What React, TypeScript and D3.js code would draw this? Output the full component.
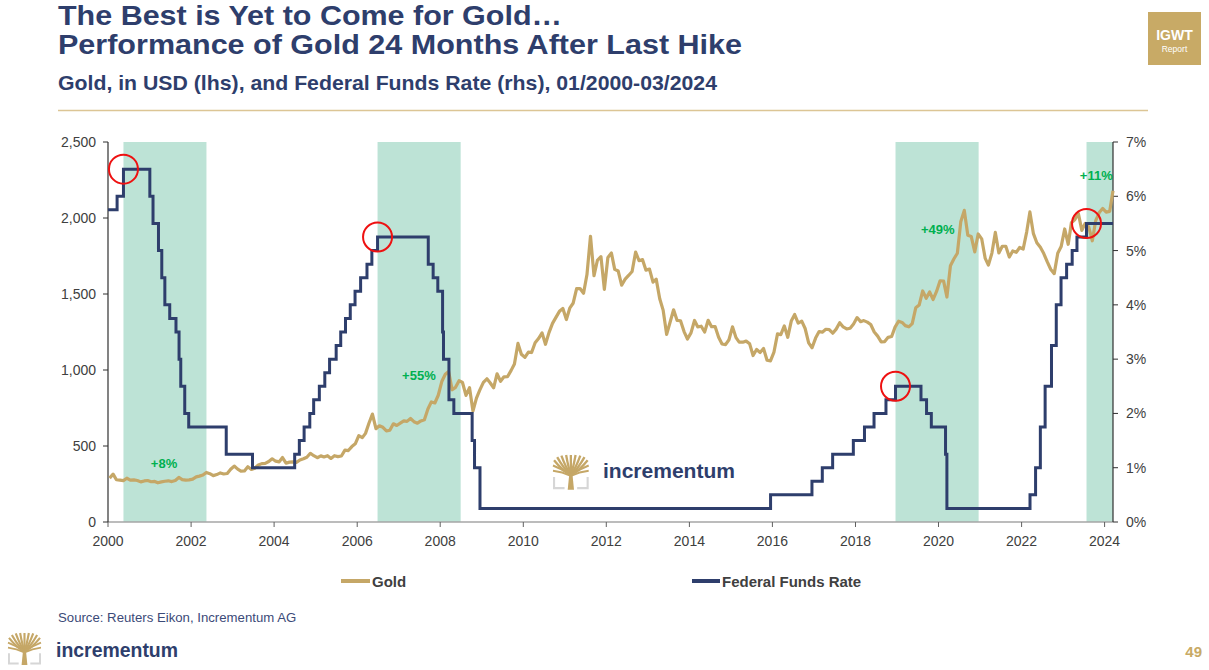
import React from "react";
import * as d3 from "d3";

// ---------- DATA ----------
const goldStartMonth = "2000-01-15";
const goldMonthly: number[] = [
  // 2000
  289, 315, 278, 275, 272, 288, 276, 277, 273, 264, 270, 273,
  // 2001
  265, 267, 258, 264, 268, 271, 266, 273, 293, 279, 275, 277,
  // 2002
  282, 297, 302, 309, 326, 318, 305, 312, 323, 316, 319, 347,
  // 2003
  368, 348, 335, 336, 364, 346, 354, 375, 384, 386, 398, 416,
  // 2004
  400, 396, 424, 387, 394, 395, 392, 408, 416, 426, 452, 436,
  // 2005
  423, 435, 428, 436, 418, 436, 430, 434, 473, 470, 496, 514,
  // 2006
  568, 555, 583, 651, 710, 614, 633, 623, 599, 604, 646, 635,
  // 2007
  650, 665, 662, 681, 660, 650, 665, 673, 743, 790, 783, 834,
  // 2008
  924, 972, 990, 870, 886, 930, 918, 833, 884, 730, 815, 869,
  // 2009
  919, 942, 916, 883, 975, 926, 955, 956, 996, 1040, 1175, 1104,
  // 2010
  1083, 1118, 1115, 1179, 1207, 1244, 1169, 1246, 1307, 1346, 1386, 1405,
  // 2011
  1332, 1409, 1439, 1535, 1536, 1505, 1628, 1880, 1620, 1722, 1746, 1531,
  // 2012
  1740, 1770, 1662, 1651, 1558, 1598, 1622, 1648, 1776, 1719, 1726, 1657,
  // 2013
  1664, 1578, 1598, 1469, 1394, 1234, 1314, 1396, 1326, 1324, 1253, 1204,
  // 2014
  1244, 1326, 1284, 1288, 1250, 1327, 1285, 1286, 1216, 1171, 1167, 1199,
  // 2015
  1284, 1213, 1183, 1183, 1190, 1172, 1095, 1135, 1115, 1142, 1064, 1060,
  // 2016
  1118, 1238, 1233, 1290, 1215, 1322, 1365, 1309, 1322, 1273, 1178, 1146,
  // 2017
  1210, 1253, 1249, 1268, 1266, 1242, 1269, 1311, 1283, 1270, 1275, 1303,
  // 2018
  1345, 1318, 1325, 1315, 1299, 1250, 1223, 1185, 1187, 1215, 1220, 1282,
  // 2019
  1321, 1313, 1292, 1284, 1305, 1409, 1427, 1520, 1472, 1513, 1464, 1517,
  // 2020
  1587, 1585, 1480, 1686, 1730, 1768, 1975, 2050, 1887, 1879, 1777, 1895,
  // 2021
  1863, 1734, 1690, 1769, 1905, 1770, 1814, 1814, 1743, 1783, 1774, 1806,
  // 2022
  1796, 1909, 2040, 1897, 1837, 1807, 1766, 1711, 1661, 1634, 1768, 1812,
  // 2023
  1928, 1827, 1969, 1990, 2030, 1919, 1965, 1940, 1850, 1983, 2036, 2063,
  // 2024
  2039, 2044, 2180,
];

const fedDates: string[] = [
  "2000-01-01", "2000-03-21", "2000-05-16", "2001-01-03", "2001-01-31", "2001-03-20",
  "2001-04-18", "2001-05-15", "2001-06-27", "2001-08-21", "2001-09-17", "2001-10-02",
  "2001-11-06", "2001-12-11", "2002-11-06", "2003-06-25", "2004-06-30", "2004-08-10",
  "2004-09-21", "2004-11-10", "2004-12-14", "2005-02-02", "2005-03-22", "2005-05-03",
  "2005-06-30", "2005-08-09", "2005-09-20", "2005-11-01", "2005-12-13", "2006-01-31",
  "2006-03-28", "2006-05-10", "2006-06-29", "2007-09-18", "2007-10-31", "2007-12-11",
  "2008-01-22", "2008-01-30", "2008-03-18", "2008-04-30", "2008-10-08", "2008-10-29",
  "2008-12-16", "2015-12-16", "2016-12-14", "2017-03-15", "2017-06-14", "2017-12-13",
  "2018-03-21", "2018-06-13", "2018-09-26", "2018-12-19", "2019-07-31", "2019-09-18",
  "2019-10-30", "2020-03-03", "2020-03-15", "2022-03-16", "2022-05-04", "2022-06-15",
  "2022-07-27", "2022-09-21", "2022-11-02", "2022-12-14", "2023-02-01", "2023-03-22",
  "2023-05-03", "2023-07-26", "2024-03-15",
];
const fedRates: number[] = [
  5.75, 6.0, 6.5, 6.0, 5.5, 5.0,
  4.5, 4.0, 3.75, 3.5, 3.0, 2.5,
  2.0, 1.75, 1.25, 1.0, 1.25, 1.5,
  1.75, 2.0, 2.25, 2.5, 2.75, 3.0,
  3.25, 3.5, 3.75, 4.0, 4.25, 4.5,
  4.75, 5.0, 5.25, 4.75, 4.5, 4.25,
  3.5, 3.0, 2.25, 2.0, 1.5, 1.0,
  0.25, 0.5, 0.75, 1.0, 1.25, 1.5,
  1.75, 2.0, 2.25, 2.5, 2.25, 2.0,
  1.75, 1.25, 0.25, 0.5, 1.0, 1.75,
  2.5, 3.25, 4.0, 4.5, 4.75, 5.0,
  5.25, 5.5, 5.5,
];

const lastHikeDates = ["2000-05-16", "2006-06-29", "2018-12-19", "2023-07-26"];
const lastHikeRates = [6.5, 5.25, 2.5, 5.5];
const windowEndDates = ["2002-05-16", "2008-06-29", "2020-12-19", "2024-03-15"];

const perfLabels = ["+8%", "+55%", "+49%", "+11%"];
const perfLabelDates = ["2001-05-08", "2007-06-28", "2019-12-25", "2023-10-20"];
const perfLabelGold = [355, 934, 1895, 2250];

const leftTicks = [0, 500, 1000, 1500, 2000, 2500];
const rightTicks = [0, 1, 2, 3, 4, 5, 6, 7];
const xTickYears = [2000, 2002, 2004, 2006, 2008, 2010, 2012, 2014, 2016, 2018, 2020, 2022, 2024];

const seriesNames = ["Gold", "Federal Funds Rate"];

// ---------- STYLE ----------
const NAVY = "#2e3e6c";
const GOLD = "#c5a767";
const BAND = "#bde3d6";
const FONT = "'Liberation Sans', Arial, Helvetica, sans-serif";
const AXIS_TXT = "#404040";

const W = 1209;
const H = 670;
const M = { left: 108, right: 1113, top: 142, bottom: 522 };

const parse = d3.timeParse("%Y-%m-%d");

function TreeIcon({ x, y, s = 1 }: { x: number; y: number; s?: number }) {
  const tips = [
    [1, 5], [4, 2], [8, 0.5], [12.5, 0], [17, 0], [21.5, 0], [26, 0.5], [30, 2], [33, 5],
  ];
  return (
    <g transform={`translate(${x},${y}) scale(${s})`}>
      <path d="M1,21 V31.5 H11" fill="none" stroke="#d6d6d6" strokeWidth={2} />
      <path d="M33,21 V31.5 H23" fill="none" stroke="#d6d6d6" strokeWidth={2} />
      {tips.map(([tx, ty], i) => (
        <path
          key={i}
          d={`M17,19 Q${(17 + tx) / 2},${(19 + ty) / 2 + 3} ${tx},${ty}`}
          fill="none"
          stroke={GOLD}
          strokeWidth={2.2}
        />
      ))}
      <path d="M0,10 Q8,13 17,19 Q26,13 34,10" fill="none" stroke={GOLD} strokeWidth={2} />
      <path d="M0,15 Q9,16 17,20 Q25,16 34,15" fill="none" stroke={GOLD} strokeWidth={1.8} />
      <path d="M14,33 L15.5,18 L18.5,18 L20,33 Z" fill={GOLD} />
    </g>
  );
}

export default function App() {
  const xDomain: [Date, Date] = [parse("2000-01-01")!, parse("2024-03-15")!];
  const x = d3.scaleTime().domain(xDomain).range([M.left, M.right]);
  const yL = d3.scaleLinear().domain([0, 2500]).range([M.bottom, M.top]);
  const yR = d3.scaleLinear().domain([0, 7]).range([M.bottom, M.top]);

  const start = parse(goldStartMonth)!;
  const gold = goldMonthly.map((v, i) => ({ d: d3.timeMonth.offset(start, i), v }));
  const fed = fedDates.map((ds, i) => ({ d: parse(ds)!, v: fedRates[i] }));

  const goldLine = d3
    .line<{ d: Date; v: number }>()
    .x((p) => x(p.d))
    .y((p) => yL(p.v))
    .curve(d3.curveLinear);
  const fedLine = d3
    .line<{ d: Date; v: number }>()
    .x((p) => x(p.d))
    .y((p) => yR(p.v))
    .curve(d3.curveStepAfter);

  const fmt = d3.format(",");

  return (
    <svg
      width={W}
      height={H}
      viewBox={`0 0 ${W} ${H}`}
      style={{ position: "absolute", left: 0, top: 0, display: "block", background: "#fff" }}
      fontFamily={FONT}
    >
      <rect x={0} y={0} width={W} height={H} fill="#fff" />

      {/* Titles */}
      <text x={58} y={25} fontSize={27} fontWeight="bold" fill={NAVY} textLength={504} lengthAdjust="spacingAndGlyphs">
        The Best is Yet to Come for Gold…
      </text>
      <text x={58} y={53.5} fontSize={27} fontWeight="bold" fill={NAVY} textLength={684} lengthAdjust="spacingAndGlyphs">
        Performance of Gold 24 Months After Last Hike
      </text>
      <text x={58} y={90} fontSize={21} fontWeight="bold" fill={NAVY} textLength={659} lengthAdjust="spacingAndGlyphs">
        Gold, in USD (lhs), and Federal Funds Rate (rhs), 01/2000-03/2024
      </text>
      <line x1={58} x2={1148} y1={110.5} y2={110.5} stroke="#dcc595" strokeWidth={1.5} />

      {/* IGWT box */}
      <rect x={1148} y={12} width={53} height={53} fill="#c8aa66" />
      <text x={1174.5} y={40} fontSize={14} fontWeight="bold" fill="#fff" textAnchor="middle">
        IGWT
      </text>
      <text x={1174.5} y={52} fontSize={8.5} fill="#fff" textAnchor="middle">
        Report
      </text>

      {/* Shaded windows */}
      {lastHikeDates.map((ds, i) => {
        const x0 = x(parse(ds)!);
        const x1 = x(parse(windowEndDates[i])!);
        return <rect key={ds} x={x0} y={M.top} width={x1 - x0} height={M.bottom - M.top} fill={BAND} />;
      })}

      {/* Watermark logo */}
      <TreeIcon x={553} y={455} s={1.05} />
      <text x={603} y={478} fontSize={21} fontWeight="bold" fill={NAVY} textLength={132} lengthAdjust="spacingAndGlyphs">
        incrementum
      </text>

      {/* Axes */}
      <line x1={M.left} x2={M.right} y1={M.bottom} y2={M.bottom} stroke="#a6a6a6" strokeWidth={1.3} />
      {xTickYears.map((yr) => {
        const xx = x(new Date(yr, 0, 1));
        return (
          <g key={yr}>
            <line x1={xx} x2={xx} y1={M.bottom} y2={M.bottom + 5} stroke="#606060" strokeWidth={1} />
            <text x={xx} y={546} fontSize={14} fill={AXIS_TXT} textAnchor="middle">
              {yr}
            </text>
          </g>
        );
      })}
      <line x1={M.left} x2={M.left} y1={M.top} y2={M.bottom} stroke="#303030" strokeWidth={1.2} />
      {leftTicks.map((t) => (
        <g key={t}>
          <line x1={M.left - 5} x2={M.left} y1={yL(t)} y2={yL(t)} stroke="#303030" strokeWidth={1} />
          <text x={96} y={yL(t) + 5} fontSize={14} fill={AXIS_TXT} textAnchor="end">
            {fmt(t)}
          </text>
        </g>
      ))}
      <line x1={M.right} x2={M.right} y1={M.top} y2={M.bottom} stroke="#303030" strokeWidth={1.2} />
      {rightTicks.map((t) => (
        <g key={t}>
          <line x1={M.right} x2={M.right + 5} y1={yR(t)} y2={yR(t)} stroke="#303030" strokeWidth={1} />
          <text x={1126} y={yR(t) + 5} fontSize={14} fill={AXIS_TXT}>
            {t}%
          </text>
        </g>
      ))}

      {/* Series */}
      <path d={goldLine(gold) || ""} fill="none" stroke={GOLD} strokeWidth={3.2} strokeLinejoin="round" />
      <path d={fedLine(fed) || ""} fill="none" stroke={NAVY} strokeWidth={3} strokeLinejoin="miter" />

      {/* Last-hike circles */}
      {lastHikeDates.map((ds, i) => (
        <circle key={ds} cx={x(parse(ds)!)} cy={yR(lastHikeRates[i])} r={14.5} fill="none" stroke="#ee1111" strokeWidth={2} />
      ))}

      {/* Performance labels */}
      {perfLabels.map((lb, i) => (
        <text
          key={lb}
          x={x(parse(perfLabelDates[i])!)}
          y={yL(perfLabelGold[i])}
          fontSize={13}
          fontWeight="bold"
          fill="#00b050"
          textAnchor="middle"
        >
          {lb}
        </text>
      ))}

      {/* Legend */}
      <line x1={341} x2={370} y1={581} y2={581} stroke={GOLD} strokeWidth={4} />
      <text x={372} y={586.5} fontSize={15} fontWeight="bold" fill={AXIS_TXT}>
        {seriesNames[0]}
      </text>
      <line x1={692} x2={720} y1={581} y2={581} stroke={NAVY} strokeWidth={4} />
      <text x={722} y={586.5} fontSize={15} fontWeight="bold" fill={AXIS_TXT}>
        {seriesNames[1]}
      </text>

      {/* Footer */}
      <text x={58} y={622} fontSize={13.2} fill="#3b4a78">
        Source: Reuters Eikon, Incrementum AG
      </text>
      <TreeIcon x={8} y={633} s={0.97} />
      <text x={56} y={657} fontSize={20} fontWeight="bold" fill={NAVY} textLength={122} lengthAdjust="spacingAndGlyphs">
        incrementum
      </text>
      <text x={1202} y={657} fontSize={15} fontWeight="bold" fill="#c8aa66" textAnchor="end">
        49
      </text>
    </svg>
  );
}
